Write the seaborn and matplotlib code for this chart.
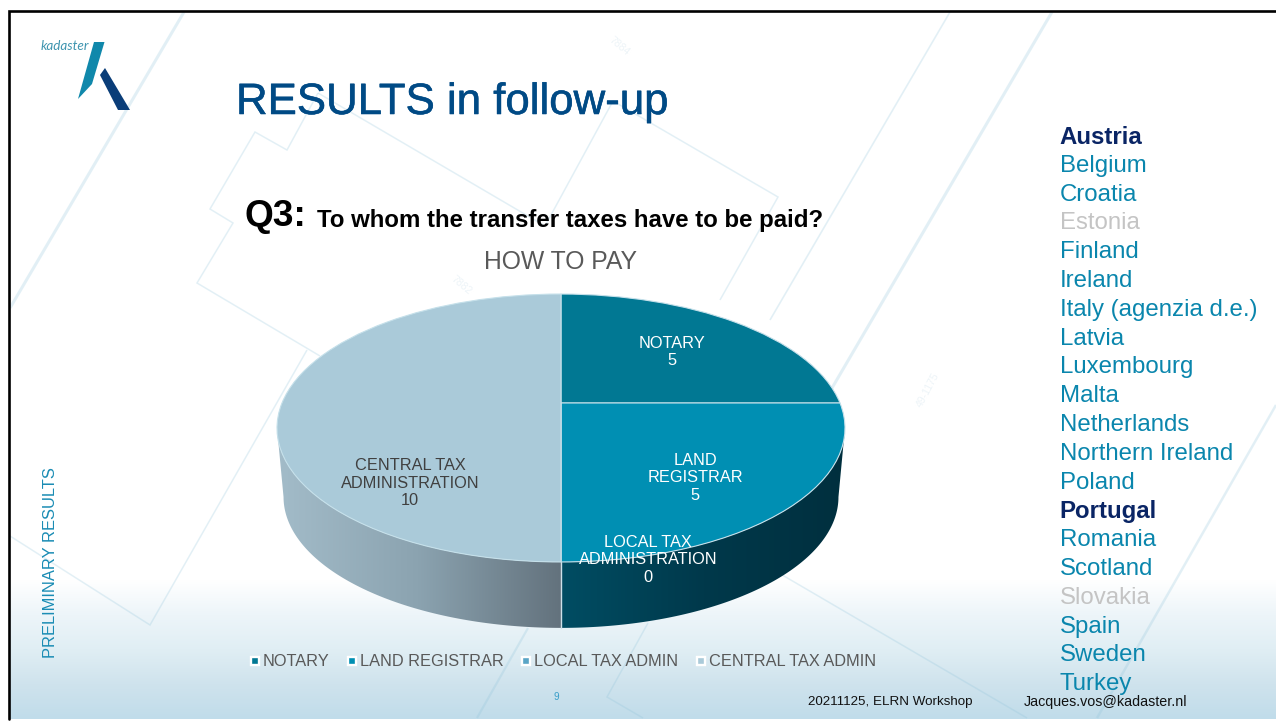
import numpy as np
import matplotlib
matplotlib.use("Agg")
import matplotlib.pyplot as plt
import matplotlib.patheffects as pe
from matplotlib.lines import Line2D
from matplotlib.patches import Polygon
from matplotlib.transforms import Transform
import seaborn as sns

categories = ["NOTARY", "LAND REGISTRAR", "LOCAL TAX ADMIN", "CENTRAL TAX ADMIN"]
slice_labels = ["NOTARY", "LAND\nREGISTRAR", "LOCAL TAX\nADMINISTRATION", "CENTRAL TAX\nADMINISTRATION"]
values = [5, 5, 0, 10]
slice_colors = ["#017893", "#008fb3", "#5aa5c6", "#aacad9"]
countries = ["Austria", "Belgium", "Croatia", "Estonia", "Finland", "Ireland",
             "Italy (agenzia d.e.)", "Latvia", "Luxembourg", "Malta", "Netherlands",
             "Northern Ireland", "Poland", "Portugal", "Romania", "Scotland",
             "Slovakia", "Spain", "Sweden", "Turkey"]
highlighted = ["Austria", "Portugal"]
greyed = ["Estonia", "Slovakia"]

sns.set_theme(style="white")
plt.rcParams["font.family"] = ["Liberation Sans", "DejaVu Sans"]

W, H = 1276, 721
px = 0.72
fig = plt.figure(figsize=(W / 100, H / 100), dpi=100, facecolor="white")
ax = fig.add_axes([0, 0, 1, 1])

L, T, B = 8.7, 11, 718.7

# slide background
grad = sns.blend_palette(["#ffffff", "#edf5f9", "#e0eef4", "#cfe3ed", "#c0dcea"], 256)
ax.imshow(np.array(grad)[:, None, :], extent=(L, W, B, 580), aspect="auto", zorder=0,
          interpolation="bilinear")

# pale cadastral lines
for seg, lw in [
    ([(184, 12), (10, 308)], 2.2), ([(950, 12), (770, 320)], 1.2), ([(1052, 12), (825, 400)], 2.2),
    ([(1276, 405), (1097, 718)], 1.8),
    ([(318, 93), (287, 150), (255, 132), (210, 209), (233, 223), (197, 283), (320, 356)], 1.1),
    ([(318, 93), (545, 226), (613, 101), (778, 197), (720, 300)], 1.1),
    ([(10, 536), (150, 625), (307, 350)], 1.1),
    ([(760, 562), (1027, 718)], 1.1),
    ([(528, 628), (477, 718)], 1.6), ([(648, 623), (607, 697), (643, 718)], 1.1),
]:
    xs, ys = zip(*seg)
    ax.plot(xs, ys, color="#8fc3da", alpha=0.25, lw=lw, zorder=1, solid_capstyle="butt",
            solid_joinstyle="miter")
for s, x, y, r in [("7884", 619, 46, -40), ("7882", 461, 285, -40), ("49-1175", 928, 390, 62)]:
    ax.text(x, y, s, color="#edf4f8", fontsize=7.5, rotation=r, ha="center", va="center", zorder=1)

# perspective map from the pie's unit circle to the slide
CX, CY, RX, RY, K = 561.0, 403.0, 279.0, 129.3, 0.1866


def project(u, v):
    d = 1 + K * v
    return CX + RX * u / d, CY - RY * v / d


class Perspective(Transform):
    input_dims = 2
    output_dims = 2
    is_separable = False
    has_inverse = False

    def transform_non_affine(self, values):
        v = np.asarray(values, dtype=float)
        x, y = project(v[:, 0], v[:, 1])
        return np.column_stack([x, y])


# side wall of the pie
t_left = np.pi + np.arcsin(K)
t_right = 2 * np.pi - np.arcsin(K)
mid = 1.5 * np.pi


def wall(a, b, n=160):
    t = np.linspace(a, b, n)
    x, y = project(np.cos(t), np.sin(t))
    xb = CX + (x - CX) * 0.977
    yb = 428 + (y - 428) * 0.977 + 69
    return np.vstack([np.column_stack([x, y]), np.column_stack([xb, yb])[::-1]])


for a, b, stops, xr in [
    (t_left, mid, ["#a3bcc9", "#8ba3b0", "#63727d"], (276, 561)),
    (mid, t_right, ["#004d63", "#00394b", "#002f3e"], (561, 846)),
]:
    poly = Polygon(wall(a, b), closed=True, transform=ax.transData, fc="none", ec="none")
    ax.add_patch(poly)
    col = np.array(sns.blend_palette(stops, 256))[None, :, :]
    im = ax.imshow(col, extent=(xr[0], xr[1], 640, 420), aspect="auto", zorder=2,
                   interpolation="bilinear")
    im.set_clip_path(poly)
ax.plot([561, 561], [562, 628], color="#cfe0e8", lw=1, zorder=3)

# pie top
wedges, _ = ax.pie(values, colors=slice_colors, startangle=90, counterclock=False,
                   center=(0, 0), radius=1,
                   wedgeprops=dict(edgecolor="#c5e0ea", linewidth=0.8))
persp = Perspective()
for w in wedges:
    w.set_transform(persp + ax.transData)
    w.set_zorder(4)

ax.set_aspect("auto")
ax.set_xlim(0, W)
ax.set_ylim(H, 0)
ax.axis("off")

# data labels
lab_fs = 16.4 * px
for i, (x, y, c) in enumerate([(672, 352, "white"), (695, 478, "white"),
                               (648, 560, "white"), (410, 483, "#404040")]):
    ax.text(x, y, f"{slice_labels[i]}\n{values[i]}", color=c, fontsize=lab_fs, ha="center",
            va="center", linespacing=1.19, zorder=6)

# legend
handles = [Line2D([], [], ls="none", marker="s", ms=5.5, mfc=c, mec="white", mew=1.7)
           for c in slice_colors]
ax.legend(handles, categories, loc="center", bbox_to_anchor=(563.5, 662),
          bbox_transform=ax.transData, ncol=4, frameon=False, fontsize=lab_fs,
          labelcolor="#595959", handlelength=0.45, handletextpad=0.25, columnspacing=1.17,
          borderpad=0, borderaxespad=0)

# frame
ax.plot([L, L, W], [B, T, T], color="black", lw=1.9, zorder=8, solid_joinstyle="miter")

# logo
ax.add_patch(Polygon([(94, 42), (104.5, 42), (92, 84), (78, 99)], fc="#1088ab", ec="none", zorder=5))
ax.add_patch(Polygon([(100, 75), (105, 68), (130, 110), (118, 110)], fc="#0a3d78", ec="none", zorder=5))
ax.text(41, 46, "kadaster", color="#3f95b0", fontsize=13.5 * px, style="italic",
        family="Lato", ha="left", va="center", zorder=5)

# titles
ax.text(236, 102.5, "RESULTS in follow-up", color="#004a85", fontsize=43.8 * px, ha="left",
        va="center", zorder=5, path_effects=[pe.withStroke(linewidth=0.4, foreground="#004a85")])
ax.text(245, 216, "Q3:", color="black", fontsize=37 * px, fontweight="bold", ha="left",
        va="center", zorder=5)
ax.text(317, 220.5, "To whom the transfer taxes have to be paid?", color="black",
        fontsize=24 * px, fontweight="bold", ha="left", va="center", zorder=5)
ax.text(560.5, 262, "HOW TO PAY", color="#595959", fontsize=24.7 * px, ha="center",
        va="center", zorder=5)

# country list
for i, name in enumerate(countries):
    color, weight, x0 = "#0a86ad", "normal", 1060
    if name in highlighted:
        color, weight, x0 = "#0a2565", "bold", 1059
    elif name in greyed:
        color = "#c4c4c4"
    ax.text(x0, 137 + i * 28.8, name, color=color, fontsize=23.95 * px, fontweight=weight,
            ha="left", va="center", zorder=5)

# margins
ax.text(51, 563, "PRELIMINARY RESULTS", color="#1a8cb4", fontsize=16.5 * px, rotation=90,
        ha="center", va="center", zorder=5)
ax.text(556, 697, "9", color="#3a9fc9", fontsize=10 * px, ha="center", va="center", zorder=5)
ax.text(808, 702, "20211125, ELRN Workshop", color="#111111", fontsize=13.4 * px, ha="left",
        va="center", zorder=7)
ax.text(1024, 702, "Jacques.vos@kadaster.nl", color="#111111", fontsize=14.2 * px, ha="left",
        va="center", zorder=7)

fig.savefig("out.png", dpi=100, facecolor="white")
